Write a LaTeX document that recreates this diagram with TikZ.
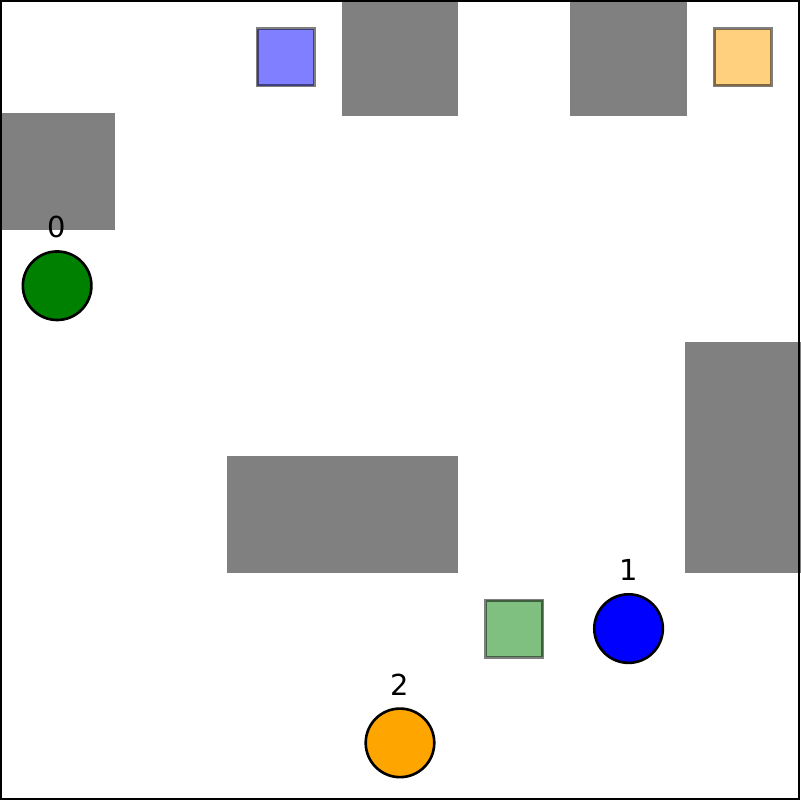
\documentclass[tikz,border=0pt]{standalone}
\usepackage{fontspec}
\setmainfont{DejaVu Sans}
\begin{document}
\begin{tikzpicture}[x=1cm,y=-1cm,
  obstacle/.style={fill={rgb,255:red,128;green,128;blue,128},draw={rgb,255:red,128;green,128;blue,128},line width=0.6pt},
  agent/.style={circle,draw=black,line width=0.65pt,minimum size=0.6cm,inner sep=0pt},
  goal/.style={draw=black,draw opacity=0.5,fill opacity=0.5,line width=0.75pt,minimum size=0.5cm,inner sep=0pt},
  lbl/.style={font=\fontsize{7.2}{8}\selectfont,inner sep=0pt}]
\useasboundingbox (0,0) rectangle (7,7);
\fill[white] (0,0) rectangle (7,7);
% obstacles
\path[obstacle] (0,1) rectangle (1,2);
\path[obstacle] (3,0) rectangle (4,1);
\path[obstacle] (5,0) rectangle (6,1);
\path[obstacle] (6,3) rectangle (7,5);
\path[obstacle] (2,4) rectangle (4,5);
% goals
\node[goal,fill=blue] (g0) at (2.5,0.5) {};
\node[goal,fill={rgb,255:red,255;green,165;blue,0}] (g1) at (6.5,0.5) {};
\node[goal,fill={rgb,255:red,0;green,128;blue,0}] (g2) at (4.5,5.5) {};
% agents
\node[agent,fill={rgb,255:red,0;green,128;blue,0}] (a0) at (0.5,2.5) {};
\node[agent,fill=blue] (a1) at (5.5,5.5) {};
\node[agent,fill={rgb,255:red,255;green,165;blue,0}] (a2) at (3.5,6.5) {};
\node[lbl] (l0) at (0.5,1.99) {0};
\node[lbl] (l1) at (5.5,4.99) {1};
\node[lbl] (l2) at (3.5,5.99) {2};
\draw[black,line width=0.5pt] (0.0075,0.0075) rectangle (6.9925,6.9925);
\end{tikzpicture}
\end{document}
